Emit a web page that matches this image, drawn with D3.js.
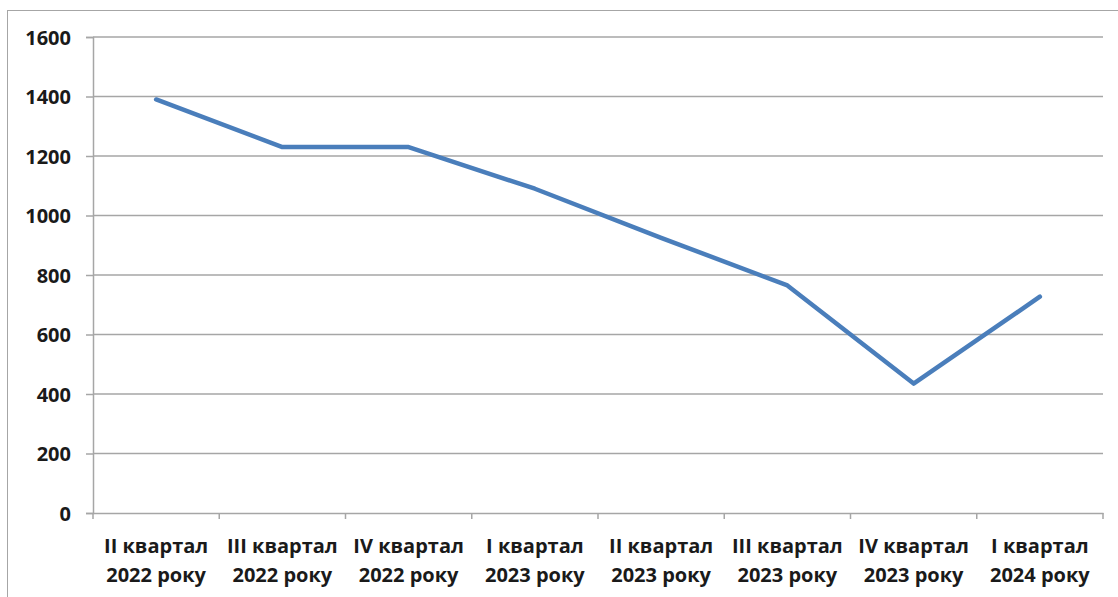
<!DOCTYPE html>
<html><head><meta charset="utf-8">
<script src="https://cdn.jsdelivr.net/npm/d3@7"></script>
<style>body{margin:0;background:#fff}svg{display:block}</style>
</head><body>
<svg id="c" width="1118" height="597"></svg>
<script>
const categories = [
  ["II квартал","2022 року"],["III квартал","2022 року"],["IV квартал","2022 року"],["I квартал","2023 року"],
  ["II квартал","2023 року"],["III квартал","2023 року"],["IV квартал","2023 року"],["I квартал","2024 року"]
];
const values = [1390, 1230, 1230, 1090, 925, 765, 435, 727];
const yTicks = [0, 200, 400, 600, 800, 1000, 1200, 1400, 1600];

const svg = d3.select("#c");
const mL = 93, mR = 1103, mT = 37, mB = 513;
const font = "'Open Sans', sans-serif";

svg.append("rect").attr("x",7.5).attr("y",10.5).attr("width",1300).attr("height",800)
  .attr("fill","none").attr("stroke","#a6a6a6").attr("stroke-width",1);

const x = d3.scaleBand().domain(categories.map((d,i)=>i)).range([mL,mR]).padding(0);
const y = d3.scaleLinear().domain([0,1600]).range([mB,mT]);

// gridlines
svg.append("g").selectAll("line").data(yTicks.filter(t=>t>0)).join("line")
  .attr("x1",mL).attr("x2",mR).attr("y1",d=>y(d)).attr("y2",d=>y(d))
  .attr("stroke","#a6a6a6").attr("stroke-width",1.5);

// y axis
const yAxis = svg.append("g").attr("transform",`translate(${mL},0)`)
  .call(d3.axisLeft(y).tickValues(yTicks).tickFormat(d3.format("d")).tickSize(7).tickPadding(15));
yAxis.select(".domain").attr("stroke","#a6a6a6").attr("stroke-width",1.5);
yAxis.selectAll(".tick line").attr("stroke","#a6a6a6").attr("stroke-width",1.5);
yAxis.selectAll("text").attr("font-family",font).attr("font-weight","bold")
  .attr("font-size",20).attr("fill","#1a1a1a").attr("dy","0.35em");

// x axis
const xAxis = svg.append("g").attr("transform",`translate(0,${mB})`)
  .call(d3.axisBottom(x).tickSize(0).tickFormat(""));
xAxis.select(".domain").attr("stroke","#a6a6a6").attr("stroke-width",1.5);
xAxis.selectAll(".tick").remove();
const edges = d3.range(categories.length+1).map(i => i < categories.length ? x(i) : x(i-1)+x.bandwidth());
svg.append("g").selectAll("line").data(edges).join("line")
  .attr("x1",d=>d).attr("x2",d=>d).attr("y1",mB).attr("y2",mB+6)
  .attr("stroke","#a6a6a6").attr("stroke-width",1.5);

const lab = svg.append("g").selectAll("text").data(categories).join("text")
  .attr("x",(d,i)=>x(i)+x.bandwidth()/2).attr("y",553)
  .attr("text-anchor","middle").attr("font-family",font).attr("font-weight","bold")
  .attr("font-size",20).attr("fill","#1a1a1a");
lab.selectAll("tspan").data(d=>d).join("tspan")
  .attr("x",function(){return this.parentNode.getAttribute("x");})
  .attr("dy",(d,i)=>i===0?0:29).text(d=>d);

// line
const line = d3.line().x((d,i)=>x(i)+x.bandwidth()/2).y(d=>y(d));
svg.append("path").datum(values).attr("d",line)
  .attr("fill","none").attr("stroke","#4a7ebb").attr("stroke-width",4.5)
  .attr("stroke-linejoin","round").attr("stroke-linecap","round");
</script>
</body></html>
